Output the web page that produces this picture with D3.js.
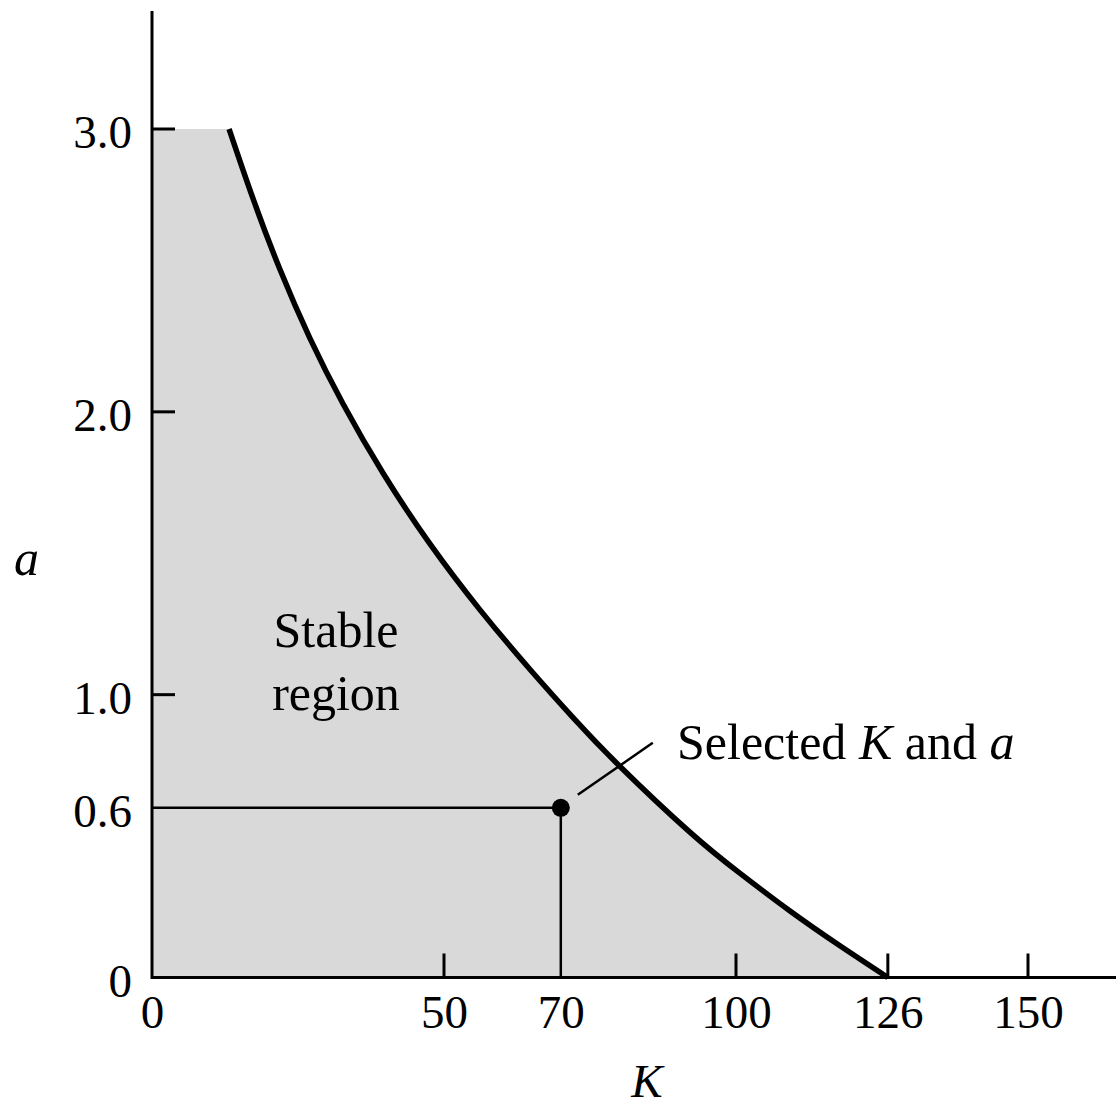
<!DOCTYPE html>
<html>
<head>
<meta charset="utf-8">
<script src="https://cdn.jsdelivr.net/npm/d3@7"></script>
<style>
  body { margin: 0; background: #fff; }
  svg text { font-family: "Liberation Serif", "Times New Roman", serif; font-size: 50px; fill: #000; }
</style>
</head>
<body>
<div id="chart"></div>
<script>
// stability boundary (K, a)
const boundaryK = [13.2, 17.35, 21.9, 27.05, 32.75, 39.6, 47.6, 56.2, 64.7, 72.1, 80.1, 92.1, 100.7, 109.25, 117.8, 126];
const boundaryA = [3.0, 2.751, 2.504, 2.26, 2.027, 1.782, 1.533, 1.299, 1.09, 0.919, 0.747, 0.514, 0.368, 0.235, 0.112, 0];

const selectedK = 70;
const selectedA = 0.6;

const xTicks = [0, 50, 70, 100, 126, 150];
const xTickMarks = [50, 100, 126, 150];
const yTicks = [0, 0.6, 1.0, 2.0, 3.0];
const yTickMarks = [1.0, 2.0, 3.0];
const aMax = 3.0;

const width = 1116, height = 1106;
const x0 = 152, y0 = 977.5;

const svg = d3.select("#chart").append("svg")
  .attr("width", width)
  .attr("height", height);

const x = d3.scaleLinear().domain([0, 150]).range([x0, 1028]);
const y = d3.scaleLinear().domain([0, 3]).range([y0, 129]);

const pts = boundaryK.map((k, i) => [k, boundaryA[i]]);

// shaded stable region (rect runs under the curve stroke to hide the seam)
svg.append("rect")
  .attr("x", x(0))
  .attr("y", y(aMax))
  .attr("width", x(boundaryK[0]) - x(0) + 1.5)
  .attr("height", y(0) - y(aMax))
  .attr("fill", "#d9d9d9");

const area = d3.area()
  .x(d => x(d[0]))
  .y0(y(0))
  .y1(d => y(d[1]))
  .curve(d3.curveNatural);

svg.append("path")
  .attr("d", area(pts))
  .attr("fill", "#d9d9d9");

// boundary curve
const line = d3.line()
  .x(d => x(d[0]))
  .y(d => y(d[1]))
  .curve(d3.curveNatural);

svg.append("path")
  .attr("d", line(pts))
  .attr("fill", "none")
  .attr("stroke", "#000")
  .attr("stroke-width", 5.5);

// axes
const xAxis = d3.axisBottom(x)
  .tickValues(xTicks)
  .tickFormat(d3.format("d"))
  .tickSizeInner(0)
  .tickSizeOuter(0)
  .tickPadding(17);

const gx = svg.append("g").attr("transform", `translate(0,${y0})`).call(xAxis);
gx.select(".domain").remove();
gx.selectAll("text").style("font-size", "47px").style("font-family", null);

gx.selectAll(".tickmark")
  .data(xTickMarks)
  .enter().append("line")
  .attr("x1", d => x(d)).attr("x2", d => x(d))
  .attr("y1", 0).attr("y2", -24)
  .attr("stroke", "#000").attr("stroke-width", 3);

const yAxis = d3.axisLeft(y)
  .tickValues(yTicks)
  .tickFormat(d => d === 0 ? "0" : d3.format(".1f")(d))
  .tickSizeInner(0)
  .tickSizeOuter(0)
  .tickPadding(20);

const gy = svg.append("g").attr("transform", `translate(${x0},0)`).call(yAxis);
gy.select(".domain").remove();
gy.selectAll("text").attr("dy", "0.4em").style("font-size", "47px").style("font-family", null);

gy.selectAll(".tickmark")
  .data(yTickMarks)
  .enter().append("line")
  .attr("x1", 0).attr("x2", 23)
  .attr("y1", d => y(d)).attr("y2", d => y(d))
  .attr("stroke", "#000").attr("stroke-width", 3);

// axis lines
svg.append("line")
  .attr("x1", x0).attr("x2", width)
  .attr("y1", y0).attr("y2", y0)
  .attr("stroke", "#000").attr("stroke-width", 3);
svg.append("line")
  .attr("x1", x0).attr("x2", x0)
  .attr("y1", 11).attr("y2", y0 + 1.5)
  .attr("stroke", "#000").attr("stroke-width", 3);

// selected point
svg.append("line")
  .attr("x1", x(0)).attr("x2", x(selectedK))
  .attr("y1", y(selectedA)).attr("y2", y(selectedA))
  .attr("stroke", "#000").attr("stroke-width", 2.5);
svg.append("line")
  .attr("x1", x(selectedK)).attr("x2", x(selectedK))
  .attr("y1", y(selectedA)).attr("y2", y(0))
  .attr("stroke", "#000").attr("stroke-width", 2.5);
svg.append("circle")
  .attr("cx", x(selectedK))
  .attr("cy", y(selectedA))
  .attr("r", 9)
  .attr("fill", "#000");

// leader line to the label
svg.append("line")
  .attr("x1", x(selectedK) + 17).attr("y1", y(selectedA) - 13)
  .attr("x2", x(selectedK) + 92).attr("y2", y(selectedA) - 65)
  .attr("stroke", "#000").attr("stroke-width", 2.5);

const sel = svg.append("text").attr("x", 677).attr("y", 759);
sel.append("tspan").text("Selected ");
sel.append("tspan").attr("font-style", "italic").text("K");
sel.append("tspan").text(" and ");
sel.append("tspan").attr("font-style", "italic").text("a");

const stable = svg.append("text").attr("text-anchor", "middle");
stable.append("tspan").attr("x", 336).attr("y", 647).text("Stable");
stable.append("tspan").attr("x", 336).attr("y", 710).text("region");

// axis titles
svg.append("text")
  .attr("x", 14).attr("y", 575)
  .attr("font-style", "italic")
  .text("a");
svg.append("text")
  .attr("x", 647).attr("y", 1097)
  .attr("text-anchor", "middle")
  .attr("font-style", "italic")
  .style("font-size", "47px")
  .text("K");
</script>
</body>
</html>
